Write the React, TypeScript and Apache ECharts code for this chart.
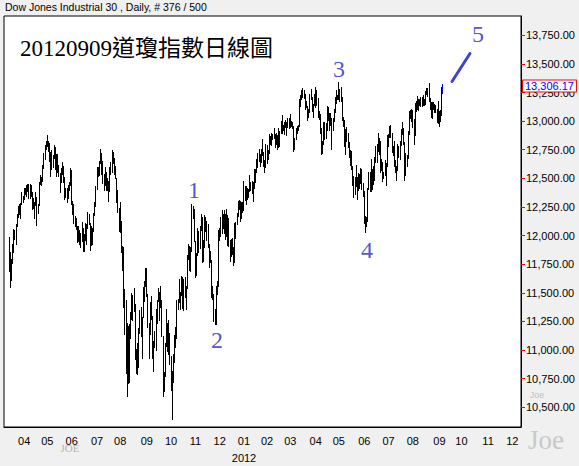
import React, { useEffect, useRef } from 'react';
import * as echarts from 'echarts';

const headerText = 'Dow Jones Industrial 30 , Daily, # 376 / 500';
const titleText = '20120909道瓊指數日線圖';
const lastClose = 13306.17;
const yTicks = [10500, 10750, 11000, 11250, 11500, 11750, 12000, 12250, 12500, 12750, 13000, 13250, 13500, 13750];
const firstDay = [2011, 2, 9];
const padBefore = 4;
const totalSlots = 447;
const holidays = [
  '2011-04-22', '2011-05-30', '2011-07-04', '2011-09-05', '2011-11-24', '2011-12-26',
  '2012-01-02', '2012-01-16', '2012-02-20', '2012-04-06', '2012-05-28', '2012-07-04',
  '2012-09-03', '2012-11-22',
];

// daily [low, high], 2011-03-15 .. 2011-12-30
const range2011: [number, number][] = [
  // Mar
  [11689, 11988], [11555, 11855], [11613, 11800], [11760, 11925], [11860, 12060], [11970, 12045], [11930, 12100], [12080, 12190], [12160, 12260], [12190, 12280], [12150, 12285], [12275, 12380], [12290, 12350],
  // Apr
  [12320, 12420], [12360, 12420], [12350, 12440], [12390, 12450], [12330, 12450], [12330, 12450], [12350, 12440], [12230, 12380], [12240, 12330], [12150, 12290], [12270, 12380], [12093, 12340], [12200, 12280], [12270, 12470], [12450, 12530], [12440, 12510], [12480, 12620], [12590, 12720], [12670, 12790], [12760, 12830],
  // May
  [12780, 12876], [12740, 12830], [12650, 12810], [12520, 12730], [12580, 12750], [12600, 12700], [12680, 12790], [12580, 12770], [12520, 12710], [12560, 12710], [12520, 12620], [12380, 12550], [12470, 12590], [12540, 12640], [12470, 12610], [12320, 12510], [12340, 12420], [12290, 12420], [12330, 12440], [12400, 12470], [12440, 12590],
  // Jun
  [12280, 12570], [12190, 12300], [12110, 12280], [12080, 12170], [12060, 12150], [11940, 12080], [11950, 12080], [11930, 12050], [11900, 12020], [11950, 12120], [11870, 12070], [11862, 12010], [11960, 12110], [11930, 12100], [12070, 12210], [12100, 12190], [11874, 12110], [11920, 12080], [11930, 12070], [12040, 12200], [12180, 12290], [12260, 12430],
  // Jul
  [12410, 12600], [12520, 12600], [12530, 12650], [12630, 12753], [12540, 12720], [12460, 12650], [12400, 12540], [12440, 12600], [12400, 12560], [12400, 12500], [12300, 12480], [12390, 12600], [12540, 12640], [12560, 12751], [12630, 12730], [12540, 12680], [12500, 12610], [12290, 12500], [12210, 12400], [12040, 12240],
  // Aug
  [12030, 12290], [11860, 12130], [11700, 11910], [11380, 11900], [11140, 11530], [10800, 11440], [10600, 11240], [10710, 11210], [10720, 11230], [11110, 11330], [11270, 11500], [11260, 11480], [11340, 11540], [10920, 11400], [10800, 11010], [10790, 11060], [10850, 11190], [11150, 11350], [11120, 11380], [10930, 11290], [11290, 11550], [11430, 11600], [11560, 11720],
  // Sep
  [11470, 11720], [11200, 11490], [10930, 11240], [11140, 11420], [11270, 11470], [10930, 11300], [10820, 11080], [11030, 11170], [11000, 11360], [11240, 11440], [11430, 11540], [11260, 11510], [11380, 11560], [11120, 11440], [10600, 11120], [10640, 10810], [10770, 11060], [11040, 11360], [10990, 11240], [10970, 11260], [10880, 11150],
  // Oct
  [10650, 10950], [10400, 10820], [10720, 10970], [10900, 11130], [11030, 11200], [11110, 11440], [11360, 11450], [11420, 11620], [11360, 11510], [11480, 11650], [11370, 11640], [11350, 11620], [11460, 11640], [11360, 11560], [11540, 11830], [11800, 11930], [11700, 11910], [11690, 11900], [11870, 12280], [12150, 12260], [11950, 12230],
  // Nov
  [11640, 11950], [11660, 11850], [11830, 12070], [11860, 12040], [11890, 12080], [12050, 12190], [11770, 12160], [11780, 11960], [11900, 12180], [12040, 12160], [11960, 12130], [11900, 12100], [11730, 11930], [11770, 11870], [11460, 11790], [11450, 11560], [11250, 11490], [11231, 11360], [11232, 11560], [11490, 11600], [11556, 12050],
  // Dec
  [11960, 12070], [12000, 12160], [12020, 12220], [12070, 12190], [12020, 12220], [11970, 12190], [12000, 12230], [11920, 12180], [11910, 12150], [11780, 11960], [11820, 11970], [11840, 11980], [11740, 11900], [11770, 12110], [11980, 12120], [12100, 12200], [12170, 12300], [12230, 12310], [12130, 12300], [12150, 12290], [12210, 12290],
];

// daily [low, high], 2012-01-03 .. 2012-09-07
const range2012: [number, number][] = [
  // Jan
  [12220, 12480], [12310, 12430], [12280, 12430], [12320, 12420], [12340, 12410], [12390, 12530], [12400, 12470], [12370, 12480], [12300, 12470], [12420, 12580], [12470, 12580], [12560, 12670], [12600, 12720], [12650, 12760], [12610, 12710], [12640, 12760], [12700, 12840], [12610, 12730], [12560, 12660], [12600, 12800],
  // Feb
  [12630, 12790], [12670, 12750], [12720, 12890], [12800, 12870], [12790, 12900], [12840, 12890], [12850, 12940], [12770, 12890], [12800, 12900], [12760, 12880], [12770, 12940], [12780, 12910], [12900, 13000], [12900, 13050], [12920, 12970], [12890, 12990], [12950, 13010], [12880, 12990], [12950, 13030], [12940, 13030],
  // Mar
  [12950, 13060], [12960, 13000], [12940, 12990], [12740, 12960], [12760, 12850], [12840, 12940], [12900, 12960], [12920, 12970], [12960, 13190], [13130, 13230], [13190, 13270], [13210, 13290], [13200, 13270], [13110, 13240], [13120, 13180], [13010, 13130], [13040, 13110], [13080, 13240], [13190, 13280], [13090, 13210], [13040, 13150], [13140, 13240],
  // Apr
  [13120, 13297], [13140, 13270], [13040, 13200], [13020, 13090], [12900, 13060], [12710, 12940], [12720, 12830], [12800, 12990], [12840, 12990], [12850, 12980], [12920, 13130], [13010, 13120], [12920, 13070], [12970, 13070], [12760, 13030], [12920, 13030], [13000, 13110], [13080, 13210], [13160, 13270], [13190, 13230],
  // May
  [13190, 13338], [13180, 13280], [13180, 13300], [13010, 13210], [12960, 13040], [12780, 13010], [12710, 12930], [12830, 12950], [12770, 12900], [12690, 12820], [12620, 12750], [12580, 12740], [12440, 12610], [12340, 12520], [12360, 12510], [12430, 12620], [12320, 12510], [12400, 12550], [12420, 12540], [12460, 12590], [12410, 12580], [12350, 12460],
  // Jun
  [12110, 12390], [12035, 12170], [12080, 12160], [12130, 12420], [12410, 12560], [12390, 12560], [12390, 12670], [12410, 12580], [12450, 12610], [12490, 12690], [12640, 12780], [12640, 12800], [12740, 12900], [12710, 12850], [12560, 12830], [12570, 12670], [12480, 12640], [12500, 12560], [12530, 12660], [12440, 12630], [12610, 12880],
  // Jul
  [12780, 12890], [12860, 12960], [12860, 12970], [12730, 12900], [12700, 12780], [12610, 12830], [12560, 12660], [12490, 12610], [12570, 12800], [12690, 12780], [12670, 12830], [12790, 12930], [12890, 12990], [12800, 12940], [12490, 12820], [12530, 12720], [12610, 12700], [12680, 12910], [12890, 13090], [13030, 13100], [13000, 13110],
  // Aug
  [12950, 13100], [12800, 13020], [12880, 13160], [13090, 13180], [13110, 13220], [13100, 13190], [13140, 13190], [13130, 13210], [13130, 13210], [13140, 13230], [13140, 13190], [13150, 13260], [13240, 13290], [13220, 13290], [13180, 13330], [13110, 13200], [13040, 13170], [13030, 13170], [13110, 13170], [13080, 13150], [13080, 13140], [12990, 13110], [12980, 13180],
  // Sep
  [12960, 13090], [13000, 13100], [13050, 13300], [13250, 13320],
];

// Elliott-wave annotations (pixel positions on the picture)
const waveLabels = [
  { text: '1', x: 194, y: 190 },
  { text: '2', x: 217, y: 340 },
  { text: '3', x: 339, y: 69 },
  { text: '4', x: 367, y: 250 },
  { text: '5', x: 478, y: 34 },
];

const pad2 = (n: number) => (n < 10 ? '0' : '') + n;

function buildDates(): string[] {
  const out: string[] = [];
  const d = new Date(Date.UTC(firstDay[0], firstDay[1], firstDay[2]));
  while (out.length < totalSlots) {
    const wd = d.getUTCDay();
    const s = `${d.getUTCFullYear()}-${pad2(d.getUTCMonth() + 1)}-${pad2(d.getUTCDate())}`;
    if (wd !== 0 && wd !== 6 && holidays.indexOf(s) < 0) out.push(s);
    d.setUTCDate(d.getUTCDate() + 1);
  }
  return out;
}

const fmt = (v: number) =>
  v.toLocaleString('en-US', { minimumFractionDigits: 2, maximumFractionDigits: 2 });

export default function App() {
  const ref = useRef<HTMLDivElement>(null);
  useEffect(() => {
    if (!ref.current) return;
    const chart = echarts.init(ref.current, undefined, { renderer: 'svg' });
    const dates = buildDates();
    const ranges = [...range2011, ...range2012];
    const bars = ranges.map((r, i) => [i + padBefore, r[0], r[1]]);
    const isMonthStart = (idx: number) =>
      idx > 0 && dates[idx].slice(5, 7) !== dates[idx - 1].slice(5, 7);
    const labelFont = '"Liberation Sans", Arial, sans-serif';

    chart.setOption({
      animation: false,
      backgroundColor: '#f0f0f0',
      grid: {
        show: true, left: 4, right: 58, top: 16, bottom: 38,
        backgroundColor: '#ffffff', borderColor: '#000000', borderWidth: 1,
      },
      xAxis: {
        type: 'category',
        data: dates,
        boundaryGap: true,
        axisLine: { lineStyle: { color: '#000', width: 1 } },
        axisTick: {
          alignWithLabel: true, length: 3,
          interval: (idx: number) => isMonthStart(idx),
          lineStyle: { color: '#ff0000' },
        },
        axisLabel: {
          interval: (idx: number) => isMonthStart(idx),
          margin: 5,
          lineHeight: 17,
          color: '#000',
          fontSize: 11,
          fontFamily: labelFont,
          formatter: (v: string) => {
            const m = v.slice(5, 7);
            return m === '01' ? m + '\n' + v.slice(0, 4) : m;
          },
        },
        splitLine: { show: false },
      },
      yAxis: {
        type: 'value',
        position: 'right',
        min: 10328.4,
        max: 13918.2,
        axisLine: { show: true, lineStyle: { color: '#000', width: 1 } },
        axisTick: { show: true, length: 4, lineStyle: { color: '#ff0000' }, customValues: yTicks },
        axisLabel: {
          customValues: yTicks,
          margin: 5,
          color: '#000',
          fontSize: 11,
          fontFamily: labelFont,
          formatter: (v: number) => fmt(v),
        },
        splitLine: { show: false },
      },
      series: [
        {
          type: 'custom',
          data: bars,
          encode: { x: 0, y: [1, 2] },
          z: 5,
          renderItem: (params: any, api: any) => {
            const idx = api.value(0);
            const top = api.coord([idx, api.value(2)]);
            const bot = api.coord([idx, api.value(1)]);
            const x = Math.floor(top[0]) + 0.5;
            const last = params.dataIndex === bars.length - 1;
            return {
              type: 'line',
              shape: { x1: x, y1: Math.round(top[1]), x2: x, y2: Math.round(bot[1]) + 1 },
              style: { stroke: last ? '#0000ff' : '#000000', lineWidth: 1 },
            };
          },
          markLine: {
            silent: true,
            symbol: ['none', 'none'],
            lineStyle: { color: 'rgba(0,0,0,0)', width: 0 },
            data: [{ yAxis: lastClose }],
            label: {
              position: 'end',
              distance: 2,
              formatter: () => fmt(lastClose),
              color: '#0000ff',
              fontSize: 11,
              fontFamily: labelFont,
              backgroundColor: '#ffffff',
              borderColor: '#ff0000',
              borderWidth: 1,
              padding: [0, 2, 0, 2],
              lineHeight: 11,
            },
          },
        },
      ],
      graphic: [
        {
          type: 'text', left: 5, top: 1, z: 100,
          style: { text: headerText, fill: '#000', font: '10.5px "Liberation Sans", Arial, sans-serif' },
        },
        {
          type: 'text', x: 20, y: 48, z: 100,
          style: {
            text: titleText, fill: '#000', fontSize: 23,
            fontFamily: '"Liberation Serif", "Noto Sans CJK TC", serif',
            verticalAlign: 'middle',
          },
        },
        ...waveLabels.map((w) => ({
          type: 'text', x: w.x, y: w.y, z: 100,
          style: {
            text: w.text, fill: '#5656d2', fontSize: 24,
            fontFamily: '"Liberation Serif", serif', align: 'center', verticalAlign: 'middle',
          },
        })),
        {
          type: 'line', z: 100,
          shape: { x1: 452, y1: 81.5, x2: 470, y2: 53.5 },
          style: { stroke: '#3c46c8', lineWidth: 3, lineCap: 'round' },
        },
        {
          type: 'text', x: 70, y: 448, z: 100,
          style: { text: 'JOE', fill: '#b4b4b4', fontSize: 11, fontFamily: '"Liberation Serif", serif', align: 'center', verticalAlign: 'middle' },
        },
        {
          type: 'text', x: 537, y: 394.5, z: 100,
          style: { text: 'Joe', fill: '#c0c0c0', fontSize: 9, fontFamily: '"Liberation Sans", sans-serif', align: 'center', verticalAlign: 'middle' },
        },
        {
          type: 'text', x: 546, y: 440, z: 100,
          style: { text: 'Joe', fill: '#c8c8c8', fontSize: 27, fontFamily: '"Liberation Serif", serif', align: 'center', verticalAlign: 'middle' },
        },
      ],
    });
    return () => chart.dispose();
  }, []);

  return (
    <div
      ref={ref}
      style={{ position: 'absolute', left: 0, top: 0, width: 579, height: 466 }}
    />
  );
}
